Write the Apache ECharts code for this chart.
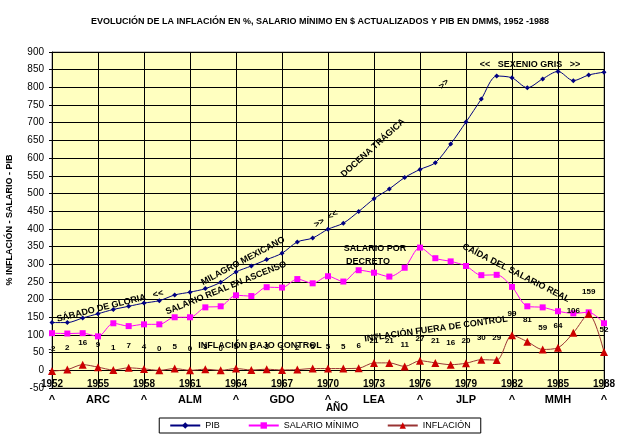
<!DOCTYPE html>
<html>
<head>
<meta charset="utf-8">
<script src="https://cdn.jsdelivr.net/npm/echarts@6/dist/echarts.min.js"></script>
<style>html,body{margin:0;padding:0;background:#fff}#main{width:640px;height:443px}</style>
</head>
<body>
<div id="main"></div>
<script>
(function(){

	var years = [];
	for (var y = 1952; y <= 1988; y++) years.push(String(y));

	// etiquetas bajo el eje (presidentes)
	var sexenios = {'1952':'^','1955':'ARC','1958':'^','1961':'ALM','1964':'^','1967':'GDO','1970':'^','1973':'LEA','1976':'^','1979':'JLP','1982':'^','1985':'MMH','1988':'^'};

	var pib = [135,135,148,160,172,181,190,197,213,221,231,249,278,295,313,331,363,374,399,416,449,485,513,545,568,587,640,702,767,832,827,799,824,845,819,835,843];
	var salario = [105,104,105,96,133,125,130,130,150,150,178,181,212,210,235,234,258,246,266,251,283,276,265,290,347,317,308,295,269,270,236,181,178,167,161,164,133];
	var inflacion = [-2,2,16,9,1,7,4,0,5,0,3,0,5,1,3,1,2,5,5,5,6,21,21,11,27,21,16,20,30,29,99,81,59,64,106,159,52];

	var myChart = echarts.init(document.getElementById('main'));
	var fnt = 'Arial, "Liberation Sans", sans-serif';

	function note(text, x, y, deg, size){
		return {
			type: 'text', x: x, y: y, rotation: deg * Math.PI / 180, z: 100,
			style: {text: text, fill: '#000', font: 'bold ' + (size || 9) + 'px ' + fnt, textAlign: 'center', textVerticalAlign: 'middle'}
		};
	}

	var option = {
		title: {
			text: 'EVOLUCIÓN DE LA INFLACIÓN EN %, SALARIO MÍNIMO EN $ ACTUALIZADOS Y PIB EN DMM$, 1952 -1988',
			left: 'center', top: 12,
			textStyle: {fontSize: 9, fontWeight: 'bold', color: '#000', fontFamily: fnt}
		},
		grid: {left: 52, right: 36, top: 52, bottom: 55, outerBoundsMode: 'none', containLabel: false,
			backgroundColor: '#FFFFC0', show: true, borderColor: '#808080'},
		legend: {
			top: 418, left: 'center', itemWidth: 30, itemHeight: 8, itemGap: 28,
			borderColor: '#000', borderWidth: 1, padding: [3, 10],
			textStyle: {fontSize: 9, color: '#000', fontFamily: fnt},
			data: ['PIB', 'SALARIO MÍNIMO', 'INFLACIÓN']
		},
		xAxis: {
			type: 'category', data: years, boundaryGap: false,
			position: 'bottom', offset: -18,
			axisLine: {show: false, onZero: false},
			axisTick: {show: false},
			axisLabel: {
				interval: 2, color: '#000', fontSize: 10, fontWeight: 'bold', fontFamily: fnt, lineHeight: 16, margin: 6,
				formatter: function(v){ return v + '\n{b|' + (sexenios[v] || '') + '}'; },
				rich: {b: {fontWeight: 'bold', fontSize: 11, fontFamily: fnt, color: '#000', lineHeight: 16}}
			},
			splitLine: {show: true, interval: 2, lineStyle: {color: '#000', width: 1}}
		},
		yAxis: {
			type: 'value', min: -50, max: 900, interval: 50,
			name: '% INFLACIÓN - SALARIO - PIB', nameLocation: 'middle', nameGap: 38,
			nameTextStyle: {fontSize: 9, fontWeight: 'bold', color: '#000', fontFamily: fnt},
			axisLine: {show: true, lineStyle: {color: '#000'}},
			axisTick: {show: true, length: 3, lineStyle: {color: '#000'}},
			axisLabel: {color: '#000', fontSize: 10, fontFamily: fnt},
			splitLine: {lineStyle: {color: '#000', width: 1}}
		},
		series: [
			{
				name: 'PIB', type: 'line', data: pib, smooth: 0.3,
				symbol: 'diamond', symbolSize: 5,
				itemStyle: {color: '#000080'}, lineStyle: {color: '#000080', width: 1}
			},
			{
				name: 'SALARIO MÍNIMO', type: 'line', data: salario, smooth: 0.3,
				symbol: 'rect', symbolSize: 6,
				itemStyle: {color: '#FF00FF'}, lineStyle: {color: '#FF00FF', width: 1}
			},
			{
				name: 'INFLACIÓN', type: 'line', data: inflacion, smooth: 0.3,
				symbol: 'triangle', symbolSize: 8,
				itemStyle: {color: '#CC0000'}, lineStyle: {color: '#993333', width: 1},
				label: {show: true, position: 'top', distance: 14, fontSize: 8, fontWeight: 'bold', color: '#000', fontFamily: fnt}
			}
		],
		graphic: [
			note('AÑO', 337, 408, 0, 10),
			note('SÁBADO DE GLORIA   <<', 110, 306, 14),
			note('SALARIO REAL EN ASCENSO', 226, 288, 22),
			note('MILAGRO MEXICANO', 243, 261, 28),
			note('>>  <<', 326, 219, 30),
			note('DOCENA TRÁGICA', 373, 148, 42),
			note('<<   SEXENIO GRIS   >>', 530, 65, 0),
			note('>>', 444, 84, 45),
			note('SALARIO POR', 375, 249, 0),
			note('DECRETO', 368, 262, 0),
			note('CAÍDA DEL SALARIO REAL', 516, 273, -27),
			note('INFLACIÓN BAJO CONTROL', 260, 346, 0),
			note('INFLACIÓN FUERA DE CONTROL', 436, 329, 8)
		]
	};
	myChart.setOption(option);

})();
</script>
</body>
</html>
